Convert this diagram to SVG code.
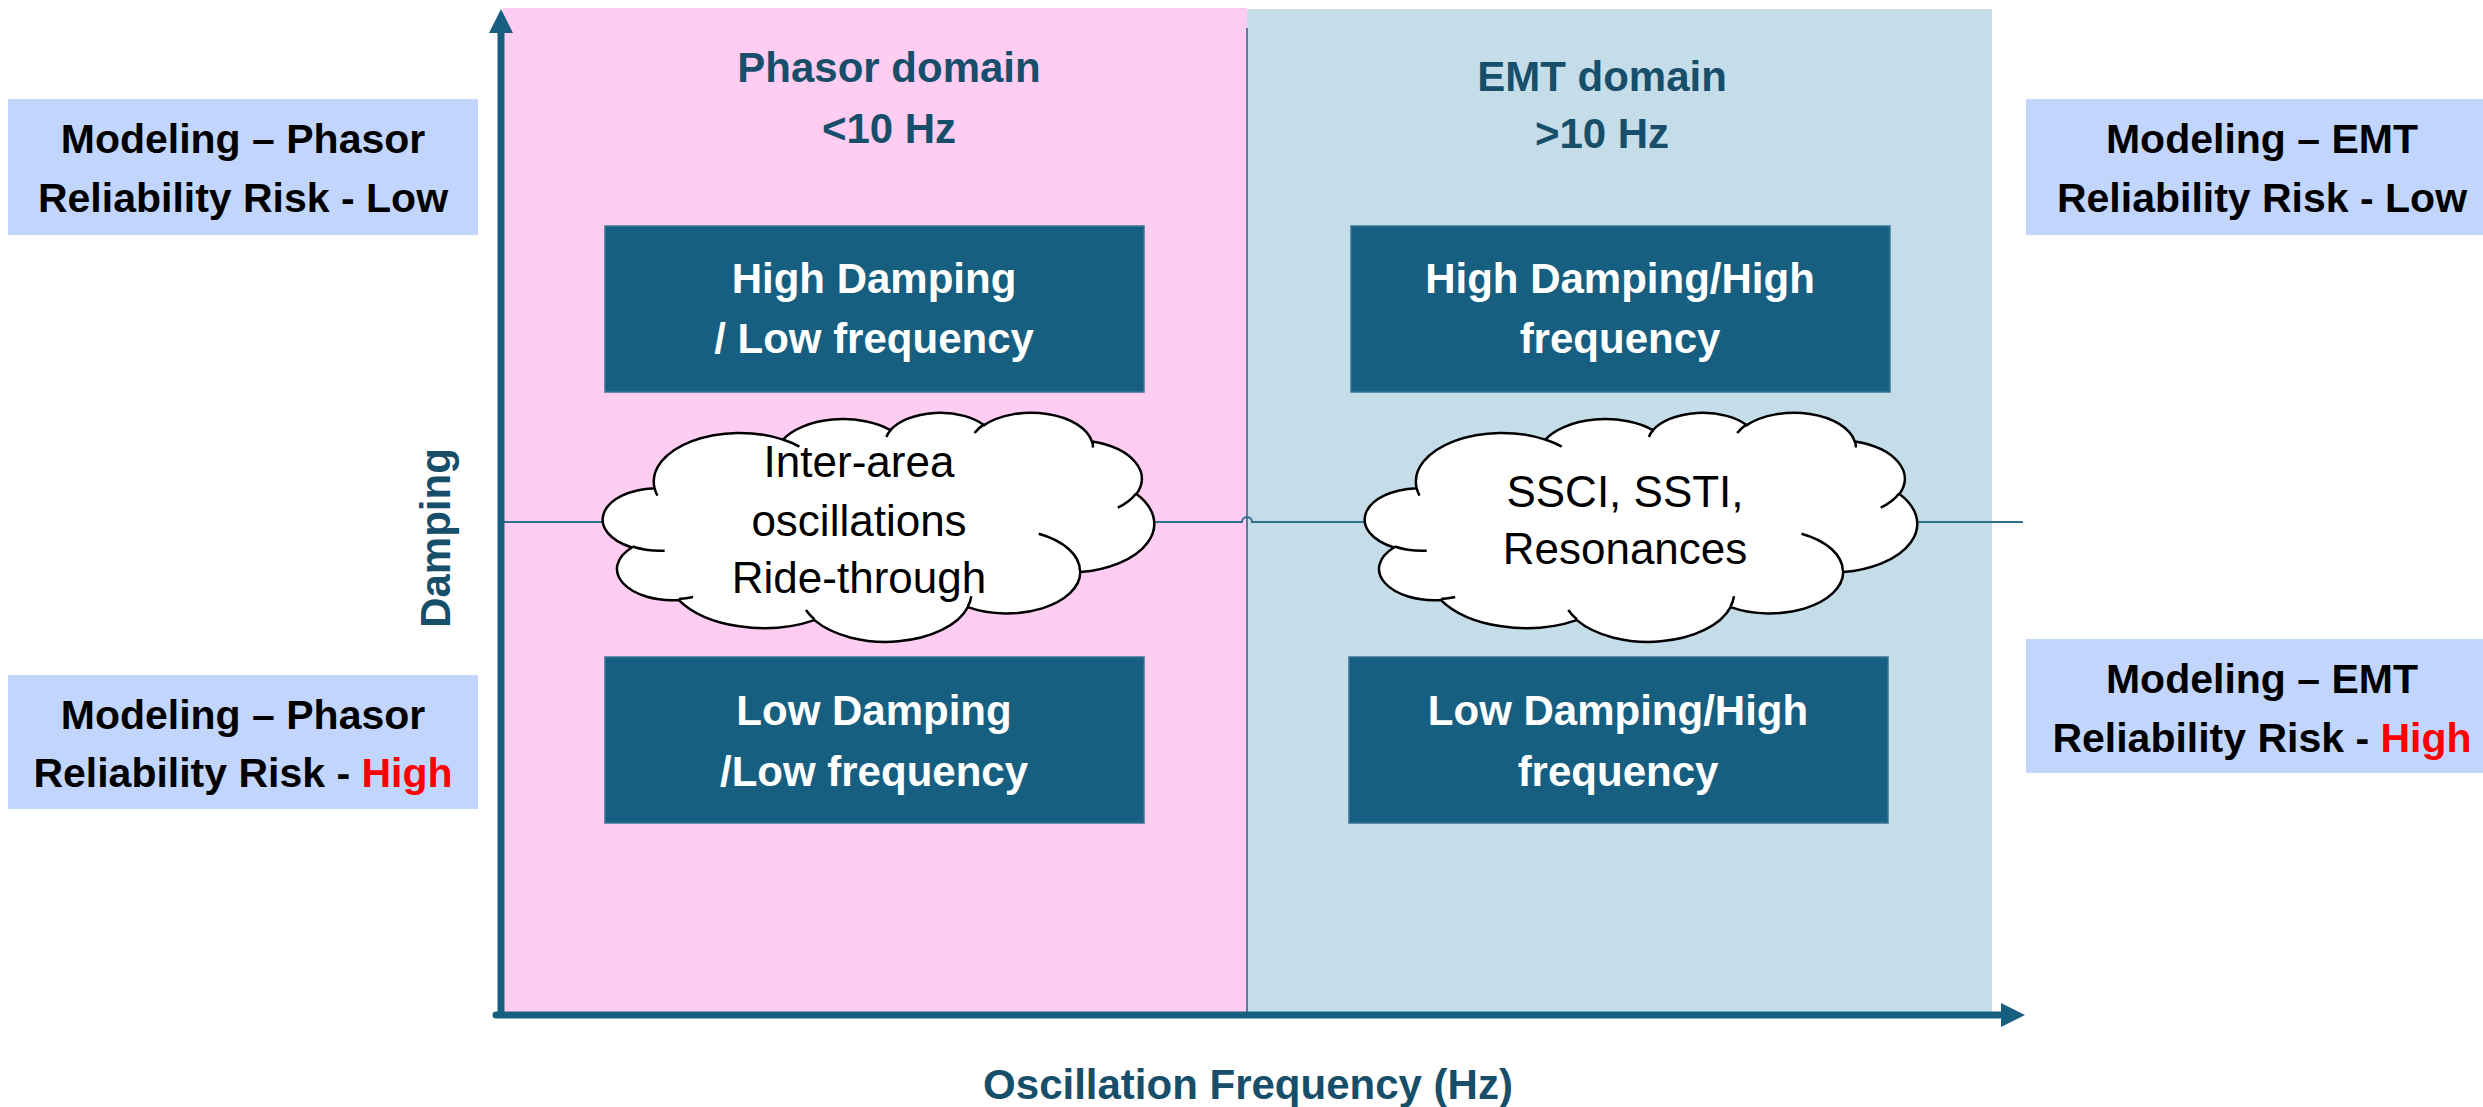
<svg xmlns="http://www.w3.org/2000/svg" width="2483" height="1107" viewBox="0 0 2483 1107">
<style>
.lbl{font-family:"Liberation Sans",Arial,sans-serif;font-weight:bold;font-size:41px;fill:#000;text-anchor:middle}
.red{fill:#FF0000}
.hdr{font-family:"Liberation Sans",Arial,sans-serif;font-weight:bold;font-size:42px;fill:#174E6A;text-anchor:middle}
.wht{font-family:"Liberation Sans",Arial,sans-serif;font-weight:bold;font-size:42px;fill:#FFFFFF;text-anchor:middle}
.cld{font-family:"Liberation Sans",Arial,sans-serif;font-size:44px;fill:#000;text-anchor:middle}
.lb{fill:#C2D6FD}
.db{fill:#175F81;stroke:#3A7494;stroke-width:1.5}
.cloud{fill:#FFFFFF;stroke:#000;stroke-width:2.5}
.cloudin{fill:none;stroke:#000;stroke-width:2.5}
.axis{stroke:#175F81;stroke-width:7;fill:none}
.thin{stroke:#2E6E8E;stroke-width:2;fill:none}
</style>
<defs>
<marker id="ah" markerUnits="userSpaceOnUse" markerWidth="24" markerHeight="24" refX="0" refY="12" orient="auto">
<path d="M0,0 L24,12 L0,24 Z" fill="#175F81"/>
</marker>
<path id="cloudOuter" vector-effect="non-scaling-stroke" d="M3900,14370 A6753,9190 0 0 1 14007,5203 A5333,7267 0 0 1 22458,3432 A4365,5945 0 0 1 29835,2482 A4857,6595 0 0 1 38320,5578 A5333,7273 0 0 1 41820,15462 A6775,9220 0 0 1 37406,30205 A5785,7867 0 0 1 28558,36816 A6752,9215 0 0 1 16481,39266 A7720,10543 0 0 1 5810,35472 A4360,5918 0 0 1 2118,25551 A4345,5945 0 0 1 3900,14370 Z"/>
<path id="cloudInner" vector-effect="non-scaling-stroke" d="M4693,26177 A4345,5945 0 0 1 2158,25379 M6928,34899 A4360,5918 0 0 1 5821,35280 M16478,39090 A6752,9215 0 0 1 15811,37351 M28827,34751 A6752,9215 0 0 1 28561,36660 M34129,22954 A5785,7867 0 0 1 37378,30088 M41798,15354 A5333,7273 0 0 1 40351,18029 M38324,5426 A4857,6595 0 0 1 38400,6690 M29078,3952 A4857,6595 0 0 1 29820,2340 M22141,4720 A4365,5945 0 0 1 22501,3329 M14000,5192 A6753,9190 0 0 1 15297,6537 M4127,15789 A6753,9190 0 0 1 3900,14370"/>
</defs>

<rect width="2483" height="1107" fill="#FFFFFF"/>

<g id="phasor-region">
<rect x="503" y="8" width="744" height="1004" fill="#FFCCF2"/>
</g>
<g id="emt-region">
<rect x="1247" y="9" width="745" height="1003" fill="#C5DDE8"/>
</g>

<g id="connectors">
<line x1="1247" y1="28" x2="1247" y2="1012" stroke="#2F5F7F" stroke-width="1.5"/>
<path class="thin" d="M501,522 H1242 A5,5 0 0 1 1252,522 H2023"/>
</g>

<g id="heading-phasor">
<text class="hdr" x="889" y="82">Phasor domain</text>
<text class="hdr" x="889" y="143">&lt;10 Hz</text>
</g>
<g id="heading-emt">
<text class="hdr" x="1602" y="91">EMT domain</text>
<text class="hdr" x="1602" y="148">&gt;10 Hz</text>
</g>

<g id="box-high-damping-low-freq">
<rect class="db" x="605" y="226" width="539" height="166"/>
<text class="wht" x="874" y="293">High Damping</text>
<text class="wht" x="874" y="353">/ Low frequency</text>
</g>
<g id="box-low-damping-low-freq">
<rect class="db" x="605" y="657" width="539" height="166"/>
<text class="wht" x="874" y="725">Low Damping</text>
<text class="wht" x="874" y="786">/Low frequency</text>
</g>
<g id="box-high-damping-high-freq">
<rect class="db" x="1351" y="226" width="539" height="166"/>
<text class="wht" x="1620" y="293">High Damping/High</text>
<text class="wht" x="1620" y="353">frequency</text>
</g>
<g id="box-low-damping-high-freq">
<rect class="db" x="1349" y="657" width="539" height="166"/>
<text class="wht" x="1618" y="725">Low Damping/High</text>
<text class="wht" x="1618" y="786">frequency</text>
</g>

<g id="cloud-inter-area">
<g transform="translate(605,412) scale(0.012708,0.005301)">
<use href="#cloudOuter" class="cloud"/>
<use href="#cloudInner" class="cloudin"/>
</g>
<text class="cld" x="859" y="477">Inter-area</text>
<text class="cld" x="859" y="536">oscillations</text>
<text class="cld" x="859" y="593">Ride-through</text>
</g>
<g id="cloud-ssci">
<g transform="translate(1367,412) scale(0.012731,0.005301)">
<use href="#cloudOuter" class="cloud"/>
<use href="#cloudInner" class="cloudin"/>
</g>
<text class="cld" x="1625" y="507">SSCI, SSTI,</text>
<text class="cld" x="1625" y="564">Resonances</text>
</g>

<g id="label-phasor-low">
<rect class="lb" x="8" y="99" width="470" height="136"/>
<text class="lbl" x="243" y="153">Modeling – Phasor</text>
<text class="lbl" x="243" y="212">Reliability Risk - Low</text>
</g>
<g id="label-phasor-high">
<rect class="lb" x="8" y="675" width="470" height="134"/>
<text class="lbl" x="243" y="729">Modeling – Phasor</text>
<text class="lbl" x="243" y="787">Reliability Risk - <tspan class="red">High</tspan></text>
</g>
<g id="label-emt-low">
<rect class="lb" x="2026" y="99" width="457" height="136"/>
<text class="lbl" x="2262" y="153">Modeling – EMT</text>
<text class="lbl" x="2262" y="212">Reliability Risk - Low</text>
</g>
<g id="label-emt-high">
<rect class="lb" x="2026" y="639" width="457" height="134"/>
<text class="lbl" x="2262" y="693">Modeling – EMT</text>
<text class="lbl" x="2262" y="752">Reliability Risk - <tspan class="red">High</tspan></text>
</g>

<g id="axes">
<line class="axis" x1="501" y1="1015" x2="501" y2="33" marker-end="url(#ah)"/>
<line class="axis" x1="496" y1="1015" x2="2001" y2="1015" stroke-linecap="round" marker-end="url(#ah)"/>
</g>

<g id="axis-label-damping">
<text class="hdr" transform="translate(450,538) rotate(-90)" x="0" y="0">Damping</text>
</g>
<g id="axis-label-frequency">
<text class="hdr" x="1248" y="1099">Oscillation Frequency (Hz)</text>
</g>
</svg>
